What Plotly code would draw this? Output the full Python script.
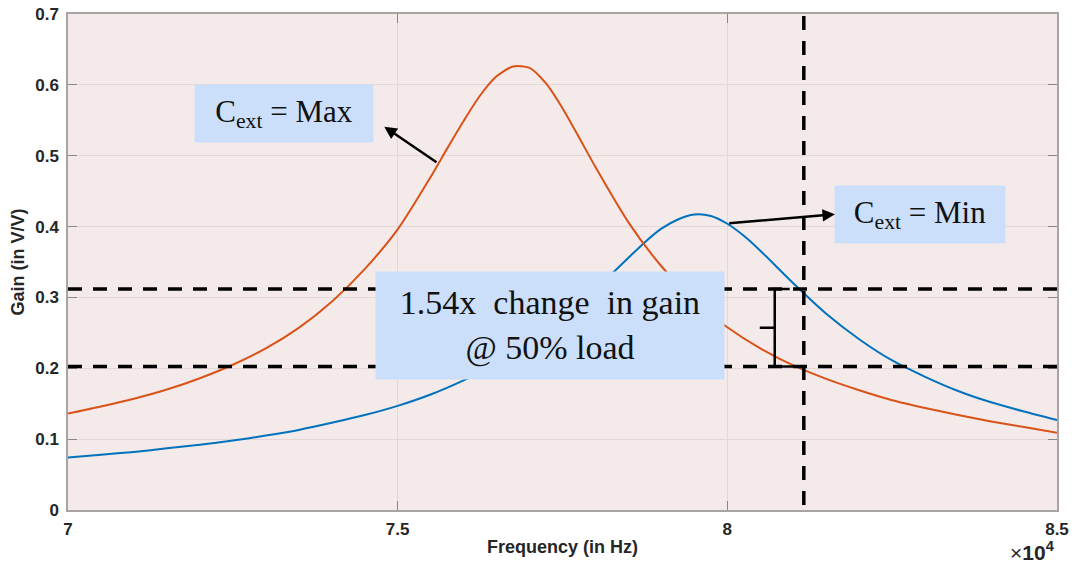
import plotly.graph_objects as go

# Frequency response for the two tuning-capacitor settings
freq_max = [70000, 70500, 71000, 71500, 72000, 72500, 73000, 73500, 74000, 74500,
            75000, 75500, 75750, 76000, 76250, 76500, 76750, 77000, 77250, 77500,
            77750, 78000, 78500, 79000, 79500, 80000, 80500, 81000, 81500, 82000,
            82500, 83000, 83500, 84000, 84500, 85000]
gain_max = [0.136, 0.146, 0.157, 0.170, 0.186, 0.205, 0.228, 0.257, 0.294, 0.340,
            0.396, 0.470, 0.510, 0.549, 0.585, 0.612, 0.626, 0.624, 0.602, 0.567,
            0.526, 0.484, 0.406, 0.344, 0.295, 0.258, 0.228, 0.204, 0.185, 0.169,
            0.155, 0.144, 0.134, 0.125, 0.117, 0.109]

freq_min = [70000, 70500, 71000, 71500, 72000, 72500, 73000, 73500, 74000, 74500,
            75000, 75500, 76000, 76500, 77000, 77500, 78000, 78500, 78750, 79000,
            79250, 79500, 79750, 80000, 80250, 80500, 81000, 81500, 82000, 82500,
            83000, 83500, 84000, 84500, 85000]
gain_min = [0.074, 0.078, 0.082, 0.087, 0.092, 0.098, 0.105, 0.113, 0.123, 0.134,
            0.147, 0.163, 0.183, 0.206, 0.235, 0.270, 0.311, 0.356, 0.378, 0.397,
            0.410, 0.417, 0.415, 0.404, 0.387, 0.366, 0.320, 0.277, 0.241, 0.211,
            0.188, 0.168, 0.152, 0.139, 0.127]

# Gain levels at the 50% load frequency
gain_ratio = 1.54
gain_high = 0.312
gain_low = round(gain_high / gain_ratio, 4)
load_freq = 81160

x_ticks = [70000, 75000, 80000, 85000]
x_tick_text = ["7", "7.5", "8", "8.5"]
y_ticks = [0, 0.1, 0.2, 0.3, 0.4, 0.5, 0.6, 0.7]
y_tick_text = ["0", "0.1", "0.2", "0.3", "0.4", "0.5", "0.6", "0.7"]

ORANGE = "#d95319"
BLUE = "#0072bd"
BOX = "#cbdffa"
AXIS_TEXT = "#262626"
SERIF = "Liberation Serif"
SANS = "Liberation Sans"

fig = go.Figure()
fig.add_trace(go.Scatter(x=freq_min, y=gain_min, mode="lines",
                         line=dict(color=BLUE, width=2, shape="spline", smoothing=0.7),
                         showlegend=False, hoverinfo="skip"))
fig.add_trace(go.Scatter(x=freq_max, y=gain_max, mode="lines",
                         line=dict(color=ORANGE, width=2, shape="spline", smoothing=0.7),
                         showlegend=False, hoverinfo="skip"))

dash_style = dict(color="black", width=3.5, dash="14px,11px")
for level in (gain_high, gain_low):
    fig.add_shape(type="line", xref="x", yref="y", x0=70000, x1=85000,
                  y0=level, y1=level, line=dash_style, layer="above")
fig.add_shape(type="line", xref="x", yref="y", x0=load_freq, x1=load_freq,
              y0=0.007, y1=0.7, line=dash_style, layer="above")

# Brace marking the gain difference
mid = (gain_high + gain_low) / 2
brace = (f"M 80946,{gain_high} L 80719,{gain_high} L 80719,{mid} L 80492,{mid} "
         f"M 80719,{mid} L 80719,{gain_low} L 81072,{gain_low}")
fig.add_shape(type="path", xref="x", yref="y", path=brace,
              line=dict(color="black", width=2.5), layer="above")

annotations = [
    dict(x=73275, y=0.5593, xref="x", yref="y", showarrow=False,
         text="C<sub>ext</sub> = Max", width=178, height=57, bgcolor=BOX,
         borderpad=0, font=dict(family=SERIF, size=31, color="#111111"),
         xanchor="center", yanchor="middle"),
    dict(x=82923, y=0.4177, xref="x", yref="y", showarrow=False,
         text="C<sub>ext</sub> = Min", width=170, height=57, bgcolor=BOX,
         borderpad=0, font=dict(family=SERIF, size=31, color="#111111"),
         xanchor="center", yanchor="middle"),
    dict(x=77311, y=0.2600, xref="x", yref="y", showarrow=False,
         text="1.54x\u00a0 change\u00a0 in gain<br>@ 50% load",
         width=348, height=107, bgcolor=BOX, borderpad=0,
         font=dict(family=SERIF, size=34, color="#111111"),
         xanchor="center", yanchor="middle"),
    dict(x=74797, y=0.5409, ax=75612, ay=0.4893, xref="x", yref="y",
         axref="x", ayref="y", text="", showarrow=True, arrowhead=2,
         arrowsize=1, arrowwidth=2.5, arrowcolor="black", standoff=0),
    dict(x=81633, y=0.4173, ax=80005, ay=0.4046, xref="x", yref="y",
         axref="x", ayref="y", text="", showarrow=True, arrowhead=2,
         arrowsize=1, arrowwidth=2.5, arrowcolor="black", standoff=0),
    dict(x=1.0, y=-0.082, xref="paper", yref="paper", showarrow=False,
         text="\u00d7<b>10</b><sup><b>4</b></sup>", xanchor="right", yanchor="middle",
         font=dict(family=SANS, size=21, color=AXIS_TEXT)),
]

axis_common = dict(
    showline=True, linecolor="#a9a4a4", linewidth=1.5, mirror="ticks",
    ticks="inside", ticklen=9, tickwidth=1, tickcolor="#8a8686",
    showgrid=True, gridcolor="#e3d8d8", gridwidth=1, zeroline=False,
    automargin=False,
    tickfont=dict(family=SANS, size=17, color=AXIS_TEXT, weight="bold"),
)

fig.update_layout(
    width=1076, height=569,
    margin=dict(l=68, r=19, t=14, b=59, autoexpand=False),
    paper_bgcolor="white", plot_bgcolor="#f4eaea",
    xaxis=dict(range=[70000, 85000], tickvals=x_ticks, ticktext=x_tick_text,
               ticklabelstandoff=3,
               title=dict(text="Frequency (in Hz)", standoff=2,
                          font=dict(family=SANS, size=18, color=AXIS_TEXT, weight="bold")),
               **axis_common),
    yaxis=dict(range=[0, 0.7], tickvals=y_ticks, ticktext=y_tick_text,
               ticklabelstandoff=4,
               title=dict(text="Gain (in V/V)", standoff=6,
                          font=dict(family=SANS, size=18, color=AXIS_TEXT, weight="bold")),
               **axis_common),
    annotations=annotations,
)

fig.write_html("out.html")
